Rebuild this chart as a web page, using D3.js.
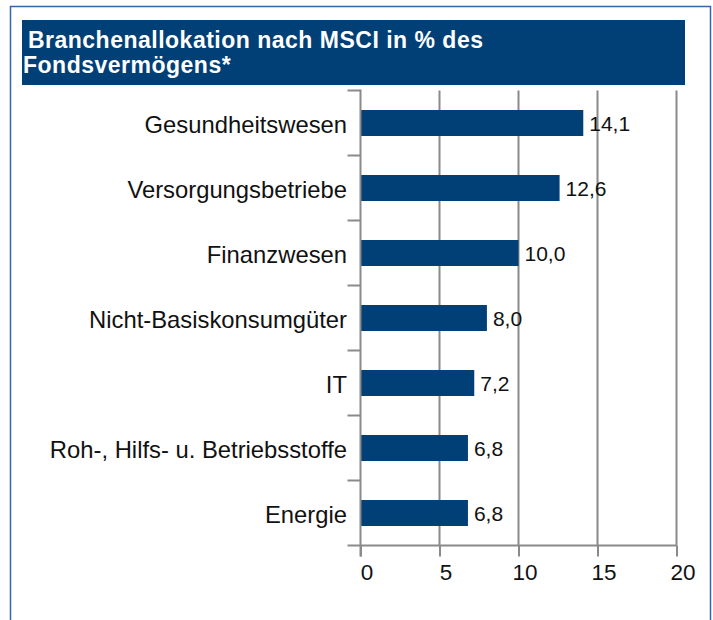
<!DOCTYPE html>
<html>
<head>
<meta charset="utf-8">
<script src="https://cdn.jsdelivr.net/npm/d3@7"></script>
<style>
  body { margin: 0; background: #fff; }
  text { font-family: "Liberation Sans", Arial, sans-serif; }
</style>
</head>
<body>
<div id="chart"></div>
<script>
// chart data
var categories = ["Gesundheitswesen", "Versorgungsbetriebe", "Finanzwesen",
  "Nicht-Basiskonsumgüter", "IT", "Roh-, Hilfs- u. Betriebsstoffe", "Energie"];
var values = [14.1, 12.6, 10.0, 8.0, 7.2, 6.8, 6.8];
var xTicks = [0, 5, 10, 15, 20];
var titleLines = [" Branchenallokation nach MSCI in % des", "Fondsvermögens*"];

var W = 713, H = 620;
var navy = "#013f77", grey = "#8a8a8a";

var svg = d3.select("#chart").append("svg")
  .attr("width", W)
  .attr("height", H);

svg.append("rect").attr("width", W).attr("height", H).attr("fill", "#fff");

// outer frame (bottom edge runs off the picture)
svg.append("path")
  .attr("d", "M10.5," + H + "V6.5H710.5V" + H)
  .attr("fill", "none")
  .attr("stroke", "#3566ad")
  .attr("stroke-width", 1.5);

// title bar
svg.append("rect")
  .attr("x", 22).attr("y", 20)
  .attr("width", 663).attr("height", 65)
  .attr("fill", navy);

svg.selectAll("text.title")
  .data(titleLines)
  .enter().append("text")
    .attr("class", "title")
    .attr("x", function(d, i) { return i == 0 ? 21 : 23; })
    .attr("y", function(d, i) { return 48 + i * 24.5; })
    .attr("fill", "#fff")
    .style("font-size", "23px")
    .style("font-weight", "bold")
    .style("letter-spacing", "0.5px")
    .style("white-space", "pre")
    .attr("xml:space", "preserve")
    .text(function(d) { return d; });

// scales
var x = d3.scaleLinear()
  .domain([0, 20])
  .range([360.5, 676.5]);

var y = d3.scaleBand()
  .domain(categories)
  .range([90.5, 545.5])
  .paddingInner(0.6)
  .paddingOuter(0.3);

var g = svg.append("g");

// vertical gridlines
g.selectAll("line.grid")
  .data(xTicks.slice(1))
  .enter().append("line")
    .attr("class", "grid")
    .attr("x1", function(d) { return x(d); })
    .attr("x2", function(d) { return x(d); })
    .attr("y1", y.range()[0])
    .attr("y2", y.range()[1])
    .attr("stroke", grey)
    .attr("stroke-width", 2);

// bars
g.selectAll("rect.bar")
  .data(values)
  .enter().append("rect")
    .attr("class", "bar")
    .attr("x", x(0))
    .attr("y", function(d, i) { return y(categories[i]); })
    .attr("width", function(d) { return x(d) - x(0); })
    .attr("height", y.bandwidth())
    .attr("fill", navy);

// value labels
g.selectAll("text.val")
  .data(values)
  .enter().append("text")
    .attr("class", "val")
    .attr("x", function(d) { return x(d) + 6; })
    .attr("y", function(d, i) { return y(categories[i]) + y.bandwidth() / 2; })
    .attr("dy", "0.4em")
    .style("font-size", "21px")
    .attr("fill", "#111")
    .text(function(d) { return d3.format(".1f")(d).replace(".", ","); });

// y axis: line, band ticks and category labels
var bounds = d3.range(categories.length + 1).map(function(i) {
  return y.range()[0] + i * y.step();
});
g.selectAll("line.ytick")
  .data(bounds)
  .enter().append("line")
    .attr("class", "ytick")
    .attr("x1", x(0) - 13).attr("x2", x(0))
    .attr("y1", function(d) { return d; })
    .attr("y2", function(d) { return d; })
    .attr("stroke", grey)
    .attr("stroke-width", 2);

g.append("line")
  .attr("x1", x(0)).attr("x2", x(0))
  .attr("y1", y.range()[0] - 1).attr("y2", y.range()[1] + 11)
  .attr("stroke", grey)
  .attr("stroke-width", 2);

g.selectAll("text.cat")
  .data(categories)
  .enter().append("text")
    .attr("class", "cat")
    .attr("x", 347)
    .attr("y", function(d) { return y(d) + y.bandwidth() / 2; })
    .attr("dy", "0.4em")
    .attr("text-anchor", "end")
    .style("font-size", "23.8px")
    .attr("fill", "#111")
    .text(function(d) { return d; });

// x axis
var xAxis = g.append("g")
  .attr("transform", "translate(0," + y.range()[1] + ")")
  .call(d3.axisBottom(x).tickValues(xTicks).tickSize(11).tickPadding(8));

xAxis.select(".domain")
  .attr("stroke", grey)
  .attr("stroke-width", 2)
  .attr("d", "M" + x(0) + ",0H" + x(20));
xAxis.selectAll(".tick line")
  .attr("stroke", grey)
  .attr("stroke-width", 2);
xAxis.selectAll(".tick text")
  .attr("dx", 6)
  .attr("fill", "#111")
  .style("font-size", "22.5px")
  .style("font-family", "'Liberation Sans', Arial, sans-serif");
</script>
</body>
</html>
